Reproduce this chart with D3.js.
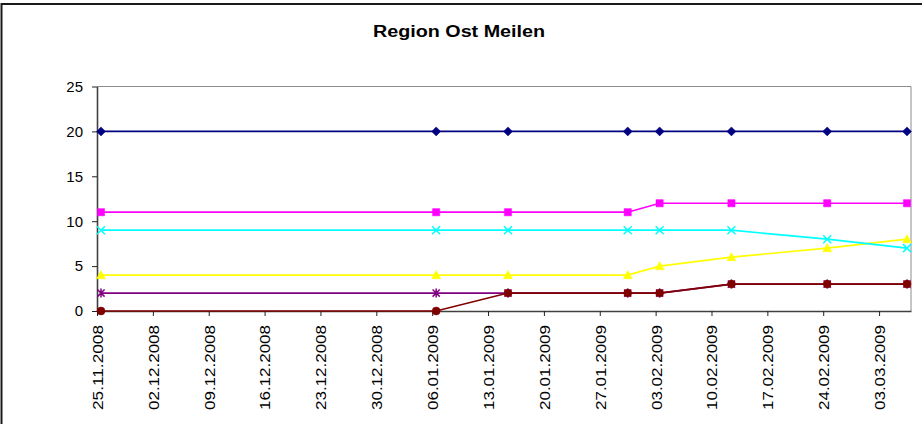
<!DOCTYPE html>
<html>
<head>
<meta charset="utf-8">
<style>
  body { margin: 0; background: #fff; }
  svg { display: block; font-family: Arial, "Liberation Sans", sans-serif; }
</style>
</head>
<body>
<div id="chart"></div>
<script src="https://d3js.org/d3.v7.min.js"></script>
<script>
// values
var dates = ["25.11.2008", "06.01.2009", "15.01.2009", "30.01.2009", "03.02.2009", "12.02.2009", "24.02.2009", "06.03.2009"];
var navy    = [20, 20, 20, 20, 20, 20, 20, 20];
var magenta = [11, 11, 11, 11, 12, 12, 12, 12];
var yellow  = [4, 4, 4, 4, 5, 6, 7, 8];
var cyan    = [9, 9, 9, 9, 9, 9, 8, 7];
var purple  = [2, 2, 2, 2, 2, 3, 3, 3];
var brown   = [0, 0, 2, 2, 2, 3, 3, 3];

var xTickLabels = ["25.11.2008", "02.12.2008", "09.12.2008", "16.12.2008", "23.12.2008", "30.12.2008",
  "06.01.2009", "13.01.2009", "20.01.2009", "27.01.2009", "03.02.2009", "10.02.2009",
  "17.02.2009", "24.02.2009", "03.03.2009"];
var yTicks = [0, 5, 10, 15, 20, 25];
var axisStart = "25.11.2008", axisEnd = "07.03.2009";

var W = 922, H = 424;
var plotLeft = 97, plotRight = 911, plotTop = 86.5, plotBottom = 311;

var parse = d3.timeParse("%d.%m.%Y");

var series = [
  {name: "navy",    values: navy,    color: "#000080", marker: "diamond"},
  {name: "magenta", values: magenta, color: "#ff00ff", marker: "square"},
  {name: "yellow",  values: yellow,  color: "#ffff00", marker: "triangle"},
  {name: "cyan",    values: cyan,    color: "#00ffff", marker: "x"},
  {name: "purple",  values: purple,  color: "#800080", marker: "star"},
  {name: "brown",   values: brown,   color: "#800000", marker: "circle"}
];

var svg = d3.select("#chart").append("svg")
    .attr("width", W)
    .attr("height", H);

// outer chart frame
svg.append("rect")
    .attr("x", 1.5).attr("y", 4)
    .attr("width", W + 10).attr("height", H + 10)
    .attr("fill", "#fff")
    .attr("stroke", "#1a1a1a")
    .attr("stroke-width", 2);

svg.append("text")
    .attr("x", 459)
    .attr("y", 36.5)
    .attr("text-anchor", "middle")
    .attr("textLength", 172)
    .attr("lengthAdjust", "spacingAndGlyphs")
    .style("font-size", "16px")
    .style("font-weight", "bold")
    .text("Region Ost Meilen");

var x = d3.scaleTime()
    .domain([parse(axisStart), parse(axisEnd)])
    .range([plotLeft, plotRight]);

var y = d3.scaleLinear()
    .domain([0, 25])
    .range([plotBottom, plotTop]);

// plot area border (grey top and right)
svg.append("path")
    .attr("d", "M" + plotLeft + "," + plotTop + "H" + plotRight + "V" + plotBottom)
    .attr("fill", "none")
    .attr("stroke", "#8c8c8c")
    .attr("stroke-width", 1);

// y axis
var yAxis = svg.append("g")
    .attr("transform", "translate(" + plotLeft + ",0)")
    .call(d3.axisLeft(y).tickValues(yTicks).tickSize(5).tickPadding(9).tickSizeOuter(0));
yAxis.select(".domain").attr("stroke", "#404040").attr("stroke-width", 1.6);
yAxis.selectAll(".tick line").attr("stroke", "#222");
yAxis.selectAll(".tick text")
    .style("font-size", "15px")
    .style("font-family", "Arial, 'Liberation Sans', sans-serif")
    .attr("fill", "#000");

// x axis
var xAxis = svg.append("g")
    .attr("transform", "translate(0," + plotBottom + ")")
    .call(d3.axisBottom(x)
      .tickValues(xTickLabels.map(parse))
      .tickFormat(d3.timeFormat("%d.%m.%Y"))
      .tickSize(5)
      .tickSizeOuter(0));
xAxis.select(".domain").attr("stroke", "#404040").attr("stroke-width", 1.6);
xAxis.selectAll(".tick line").attr("stroke", "#222");
xAxis.selectAll(".tick text")
    .attr("transform", "rotate(-90)")
    .attr("text-anchor", "end")
    .attr("x", -14)
    .attr("y", 0)
    .attr("dy", "0.36em")
    .attr("textLength", 85)
    .attr("lengthAdjust", "spacingAndGlyphs")
    .style("font-size", "15px")
    .style("font-family", "Arial, 'Liberation Sans', sans-serif")
    .attr("fill", "#000");

// points sit in the middle of their day
function px(d) { return x(d3.timeHour.offset(parse(d), 12)); }

var line = d3.line()
    .x(function(d) { return px(d.date); })
    .y(function(d) { return y(d.value); });

var shapes = {
  diamond:  "M0,-4.5L4.5,0L0,4.5L-4.5,0Z",
  square:   "M-3.6,-3.6H3.6V3.6H-3.6Z",
  triangle: "M0,-4.6L4.4,3.6H-4.4Z",
  x:        "M-4,-4L4,4M4,-4L-4,4",
  star:     "M-3.6,-3.6L3.6,3.6M3.6,-3.6L-3.6,3.6M0,-4.5V4.5",
  circle:   "M4,0A4,4 0 1,1 -4,0A4,4 0 1,1 4,0Z"
};

series.forEach(function(s) {
  var pts = dates.map(function(d, i) { return {date: d, value: s.values[i]}; });
  var g = svg.append("g");
  g.append("path")
      .datum(pts)
      .attr("d", line)
      .attr("fill", "none")
      .attr("stroke", s.color)
      .attr("stroke-width", 1.7);
  var stroked = (s.marker === "x" || s.marker === "star");
  g.selectAll("path.mk")
    .data(pts)
    .enter().append("path")
      .attr("class", "mk")
      .attr("transform", function(d) { return "translate(" + px(d.date) + "," + y(d.value) + ")"; })
      .attr("d", shapes[s.marker])
      .attr("fill", stroked ? "none" : s.color)
      .attr("stroke", s.color)
      .attr("stroke-width", stroked ? 1.5 : 0.5);
});
</script>
</body>
</html>
